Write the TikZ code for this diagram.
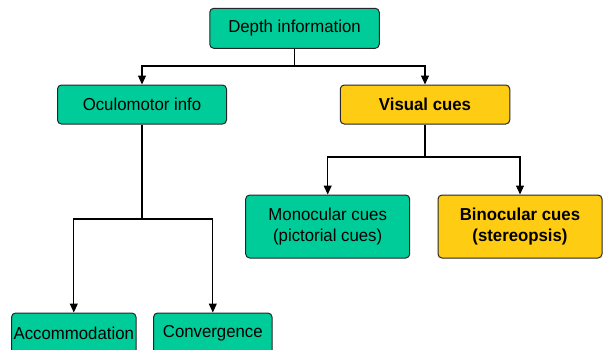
\documentclass[tikz,border=0pt]{standalone}
\usepackage{fontspec}
\setmainfont[FakeStretch=0.97]{Liberation Sans}
\usetikzlibrary{arrows.meta}
\definecolor{boxgreen}{RGB}{0,204,153}
\definecolor{boxyellow}{RGB}{255,204,20}
\tikzset{
  box/.style={draw=black!85, line width=1pt, rounded corners=4pt, inner sep=0pt, align=center,
    font=\fontsize{17.3}{20.5}\selectfont},
  gbox/.style={box, fill=boxgreen},
  ybox/.style={box, fill=boxyellow, font=\fontsize{17.3}{20.5}\selectfont\bfseries},
  conn/.style={line width=1.1pt, black},
  arr/.style={conn, -{Triangle[length=9pt,width=8pt]}}
}
\begin{document}
\begin{tikzpicture}[x=1pt,y=1pt]
\clip (0,0) rectangle (609,-349);
\node[gbox, minimum width=169.5pt, minimum height=40pt] (depth) at (294.5,-28.3) {Depth information};
\node[gbox, minimum width=169pt, minimum height=39pt] (ocu) at (142,-104.5) {Oculomotor info};
\node[ybox, minimum width=169.5pt, minimum height=39pt] (vis) at (425,-104.5) {Visual cues};
\node[gbox, minimum width=164pt, minimum height=63pt] (mono) at (327.7,-226.5) {Monocular cues\\(pictorial cues)};
\node[ybox, minimum width=164pt, minimum height=63pt] (bino) at (520,-226.5) {Binocular cues\\(stereopsis)};
\node[gbox, minimum width=124.4pt, minimum height=41pt] (acc) at (73.8,-333.5) {Accommodation};
\node[gbox, minimum width=118.4pt, minimum height=41pt] (conv) at (212.8,-333.5) {Convergence};
\coordinate (j1) at (294.5,-66);
\coordinate (j2) at (142,-219);
\coordinate (j3) at (425,-157);
\draw[conn] (depth.south) -- (j1);
\draw[arr] (j1) -| (ocu.north);
\draw[arr] (j1) -| (vis.north);
\draw[conn] (ocu.south) -- (j2);
\draw[arr] (j2) -| (acc.north);
\draw[arr] (j2) -| (conv.north);
\draw[conn] (vis.south) -- (j3);
\draw[arr] (j3) -| (mono.north);
\draw[arr] (j3) -| (bino.north);
\end{tikzpicture}
\end{document}
